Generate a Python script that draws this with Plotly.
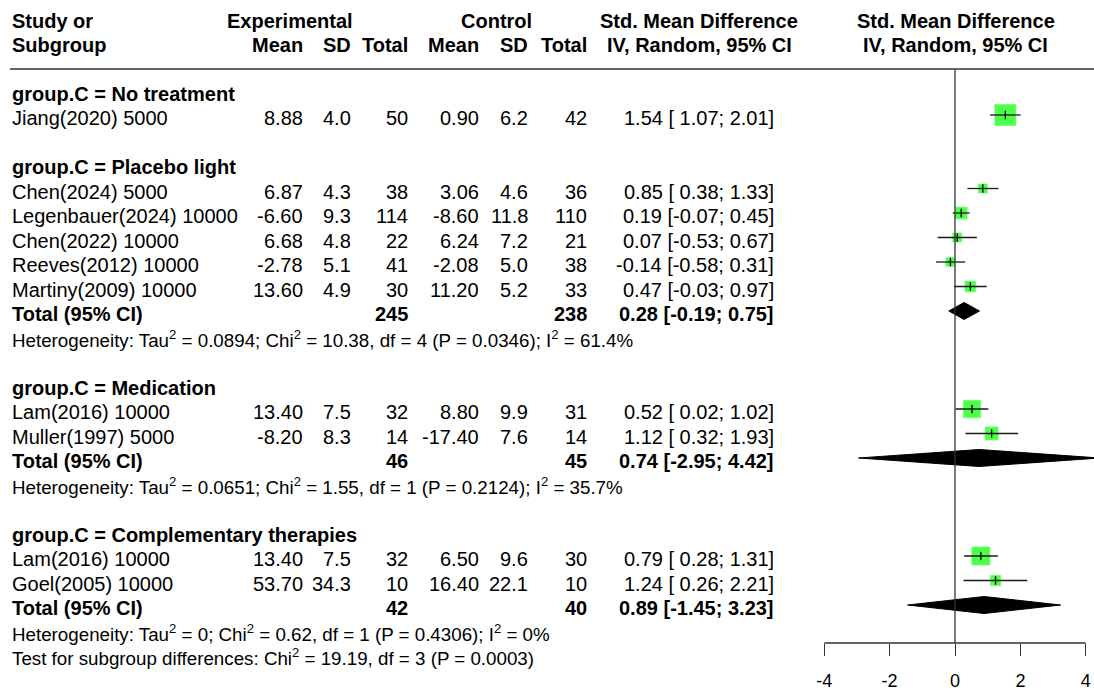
import plotly.graph_objects as go

W, H = 1094, 693
FONT = "Liberation Sans, Arial, sans-serif"
FS = 20
FS_HET = 18.75

# ---------------- data ----------------
studies = ["Jiang(2020) 5000", "Chen(2024) 5000", "Legenbauer(2024) 10000",
           "Chen(2022) 10000", "Reeves(2012) 10000", "Martiny(2009) 10000",
           "Lam(2016) 10000", "Muller(1997) 5000", "Lam(2016) 10000",
           "Goel(2005) 10000"]
groups = ["No treatment", "Placebo light", "Placebo light", "Placebo light",
          "Placebo light", "Placebo light", "Medication", "Medication",
          "Complementary therapies", "Complementary therapies"]
mean_e = [8.88, 6.87, -6.60, 6.68, -2.78, 13.60, 13.40, -8.20, 13.40, 53.70]
sd_e = [4.0, 4.3, 9.3, 4.8, 5.1, 4.9, 7.5, 8.3, 7.5, 34.3]
n_e = [50, 38, 114, 22, 41, 30, 32, 14, 32, 10]
mean_c = [0.90, 3.06, -8.60, 6.24, -2.08, 11.20, 8.80, -17.40, 6.50, 16.40]
sd_c = [6.2, 4.6, 11.8, 7.2, 5.0, 5.2, 9.9, 7.6, 9.6, 22.1]
n_c = [42, 36, 110, 21, 38, 33, 31, 14, 30, 10]
smd = [1.54, 0.85, 0.19, 0.07, -0.14, 0.47, 0.52, 1.12, 0.79, 1.24]
ci_lo = [1.07, 0.38, -0.07, -0.53, -0.58, -0.03, 0.02, 0.32, 0.28, 0.26]
ci_hi = [2.01, 1.33, 0.45, 0.67, 0.31, 0.97, 1.02, 1.93, 1.31, 2.21]
weight = [24.1, 4.4, 7.5, 4.4, 4.2, 6.3, 16.4, 9.2, 17.7, 5.8]  # % (box area)

group_order = ["No treatment", "Placebo light", "Medication", "Complementary therapies"]
sub_groups = ["Placebo light", "Medication", "Complementary therapies"]
sub_n_e = [245, 46, 42]
sub_n_c = [238, 45, 40]
sub_smd = [0.28, 0.74, 0.89]
sub_lo = [-0.19, -2.95, -1.45]
sub_hi = [0.75, 4.42, 3.23]
sub_tau2 = [0.0894, 0.0651, 0]
sub_chi2 = [10.38, 1.55, 0.62]
sub_df = [4, 1, 1]
sub_p = [0.0346, 0.2124, 0.4306]
sub_i2 = [61.4, 35.7, 0]
test_chi2, test_df, test_p = 19.19, 3, 0.0003

tick_vals = [-4, -2, 0, 2, 4]
tick_text = ["-4", "-2", "0", "2", "4"]

# ---------------- layout helpers ----------------
X0_PX, PPU = 955, 32.7          # pixel of x=0, pixels per unit
ROW0, ROWH = 20, 24.5
MARK_OFF = -3


def row(k):
    return ROW0 + ROWH * k


ann = []


def txt(x_px, y_px, s, anchor="right", bold=False, size=FS):
    ann.append(dict(x=x_px / W, y=y_px, xref="paper", yref="y",
                    text=("<b>%s</b>" % s) if bold else s, showarrow=False,
                    xanchor=anchor, yanchor="middle",
                    font=dict(size=size, color="black", family=FONT)))


COLS = dict(me=305, se=353, ne=410, mc=481, sc=530, nc=589, ci=776)

# header
h1, h2 = 21, 45
txt(10, h1, "Study or", "left", True)
txt(10, h2, "Subgroup", "left", True)
txt(290, h1, "Experimental", "center", True)
txt(496, h1, "Control", "center", True)
txt(COLS["me"], h2, "Mean", bold=True)
txt(COLS["se"], h2, "SD", bold=True)
txt(COLS["ne"], h2, "Total", bold=True)
txt(COLS["mc"], h2, "Mean", bold=True)
txt(COLS["sc"], h2, "SD", bold=True)
txt(COLS["nc"], h2, "Total", bold=True)
txt(699, h1, "Std. Mean Difference", "center", True)
txt(699, h2, "IV, Random, 95% CI", "center", True)
txt(956, h1, "Std. Mean Difference", "center", True)
txt(956, h2, "IV, Random, 95% CI", "center", True)


def ci_text(e, l, h):
    return "%.2f [%5.2f; %.2f]" % (e, l, h)


study_y = [0] * len(studies)
diamonds = []
k = 3
for gi, g in enumerate(group_order):
    txt(10, row(k), "group.C = %s" % g, "left", True)
    k += 1
    for i, gg in enumerate(groups):
        if gg != g:
            continue
        y = row(k)
        study_y[i] = y
        txt(10, y, studies[i], "left")
        txt(COLS["me"], y, "%.2f" % mean_e[i])
        txt(COLS["se"], y, "%.1f" % sd_e[i])
        txt(COLS["ne"], y, "%d" % n_e[i])
        txt(COLS["mc"], y, "%.2f" % mean_c[i])
        txt(COLS["sc"], y, "%.1f" % sd_c[i])
        txt(COLS["nc"], y, "%d" % n_c[i])
        txt(COLS["ci"], y, ci_text(smd[i], ci_lo[i], ci_hi[i]))
        k += 1
    if g in sub_groups:
        j = sub_groups.index(g)
        y = row(k)
        txt(10, y, "Total (95% CI)", "left", True)
        txt(COLS["ne"], y, "%d" % sub_n_e[j], bold=True)
        txt(COLS["nc"], y, "%d" % sub_n_c[j], bold=True)
        txt(COLS["ci"], y, ci_text(sub_smd[j], sub_lo[j], sub_hi[j]), bold=True)
        diamonds.append((sub_lo[j], sub_smd[j], sub_hi[j], y + MARK_OFF))
        k += 1
        het = ("Heterogeneity: Tau<sup>2</sup> = %g; Chi<sup>2</sup> = %.2f, df = %d "
               "(P = %.4f); I<sup>2</sup> = %g%%" %
               (sub_tau2[j], sub_chi2[j], sub_df[j], sub_p[j], sub_i2[j]))
        txt(10, row(k), het, "left", size=FS_HET)
        k += 1
    if gi < len(group_order) - 1:
        k += 1
txt(10, row(k), "Test for subgroup differences: Chi<sup>2</sup> = %.2f, df = %d (P = %.4f)"
    % (test_chi2, test_df, test_p), "left", size=FS_HET)

LINE_Y = 69
AXIS_Y = 643

fig = go.Figure()

# squares
max_w = max(weight)
fig.add_trace(go.Scatter(
    x=smd, y=[y + MARK_OFF for y in study_y], mode="markers",
    marker=dict(symbol="square", color="#00ff00",
                size=[21 * (w / max_w) ** 0.5 for w in weight],
                line=dict(width=0.8, color="#33ff33")),
    hoverinfo="skip"))
# CI lines + estimate ticks
fig.add_trace(go.Scatter(
    x=smd, y=[y + MARK_OFF for y in study_y], mode="markers",
    marker=dict(symbol="line-ns", size=6, line=dict(width=1.3, color="black"),
                color="black"),
    error_x=dict(type="data", symmetric=False,
                 array=[h - e for h, e in zip(ci_hi, smd)],
                 arrayminus=[e - l for e, l in zip(smd, ci_lo)],
                 width=0, thickness=1.3, color="#1a1a1a"),
    hoverinfo="skip"))
# diamonds
DH = 8.5
for lo, est, hi, y in diamonds:
    fig.add_trace(go.Scatter(
        x=[lo, est, hi, est, lo], y=[y, y - DH, y, y + DH, y],
        mode="lines", fill="toself", fillcolor="black",
        line=dict(color="black", width=1), hoverinfo="skip"))

shapes = [
    dict(type="line", xref="paper", yref="y", x0=10 / W, x1=1, y0=LINE_Y, y1=LINE_Y,
         line=dict(color="#333333", width=1.5)),
    dict(type="line", xref="x", yref="y", x0=0, x1=0, y0=LINE_Y, y1=AXIS_Y,
         line=dict(color="#333333", width=1.3)),
    dict(type="line", xref="x", yref="y", x0=min(tick_vals), x1=max(tick_vals),
         y0=AXIS_Y, y1=AXIS_Y, line=dict(color="#333333", width=1.3)),
]

fig.update_layout(
    width=W, height=H, margin=dict(l=0, r=0, t=0, b=0),
    paper_bgcolor="white", plot_bgcolor="white", showlegend=False,
    annotations=ann, shapes=shapes,
    xaxis=dict(range=[(0 - X0_PX) / PPU, (W - X0_PX) / PPU], domain=[0, 1],
               showgrid=False, zeroline=False, showline=False,
               tickmode="array", tickvals=tick_vals, ticktext=tick_text,
               ticks="outside", ticklen=12, tickwidth=1.3, tickcolor="#333333",
               tickfont=dict(size=18, color="black", family=FONT),
               anchor="free", position=(H - AXIS_Y) / H, ticklabelstandoff=9),
    yaxis=dict(range=[H, 0], domain=[0, 1], visible=False),
    font=dict(family=FONT, color="black"),
)

fig.write_html("out.html",
               config={"displayModeBar": False},
               post_script="document.body.style.margin='0';"
                           "document.body.style.overflow='hidden';")
